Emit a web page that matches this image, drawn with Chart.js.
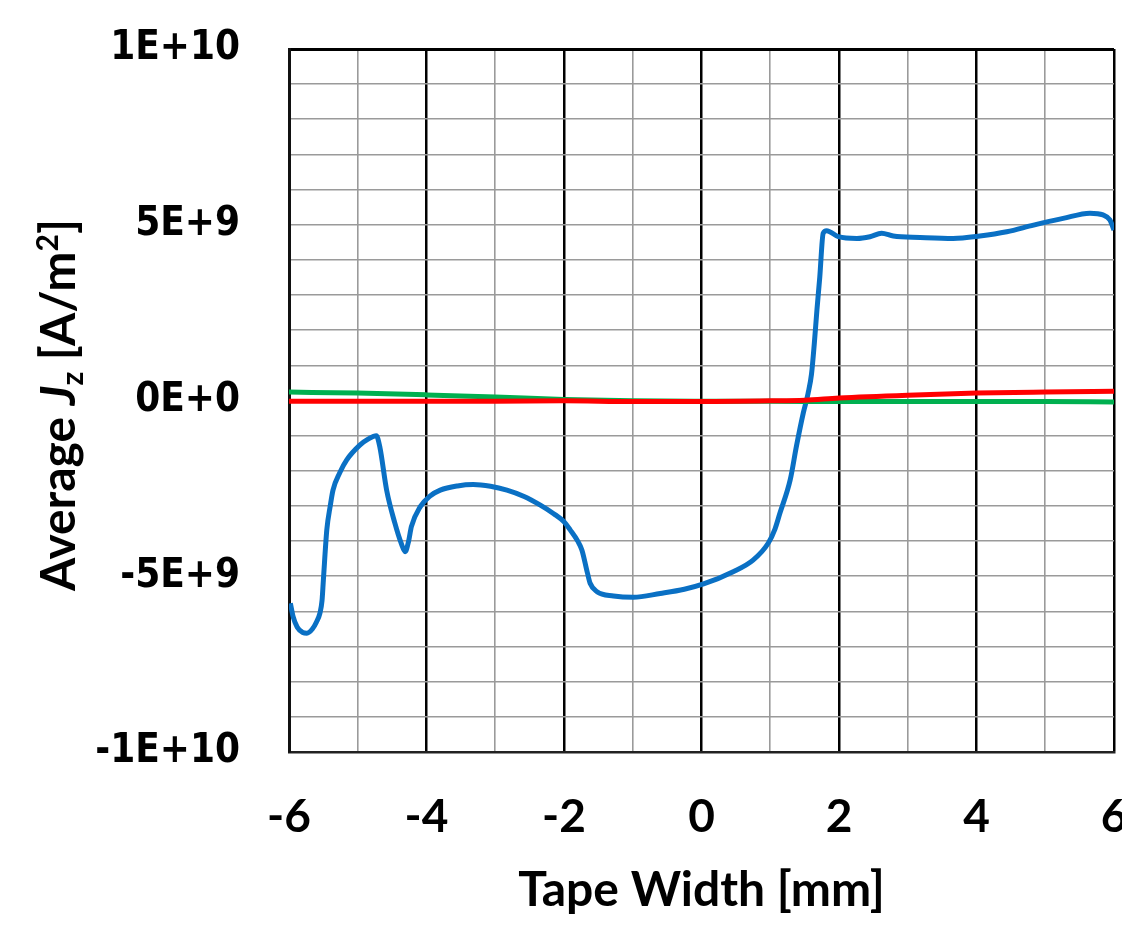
<!DOCTYPE html>
<html>
<head>
<meta charset="utf-8">
<script src="https://cdn.jsdelivr.net/npm/chart.js@4/dist/chart.umd.min.js"></script>
<style>
  html, body { margin: 0; padding: 0; background: #fff; overflow: hidden; }
  #wrap { width: 1150px; height: 925px; }
</style>
</head>
<body>
<div id="wrap"><canvas id="c" width="1150" height="925"></canvas></div>
<script>
// Average current density Jz across the tape width

// Blue trace: position [mm] and Jz [A/m^2]
const blueX = [-5.98, -5.94, -5.88, -5.80, -5.74, -5.66, -5.60, -5.55, -5.52, -5.50,
  -5.45, -5.40, -5.36, -5.26, -5.16, -4.97, -4.85, -4.73, -4.68, -4.58,
  -4.46, -4.37, -4.31, -4.26, -4.22, -4.09, -3.95, -3.80, -3.55, -3.32,
  -3.07, -2.83, -2.58, -2.35, -2.15, -2.00, -1.91, -1.80, -1.74, -1.66,
  -1.62, -1.52, -1.28, -0.99, -0.60, -0.25, 0.03, 0.46, 0.75, 0.97,
  1.07, 1.14, 1.29, 1.38, 1.48, 1.55, 1.60, 1.64, 1.68, 1.72, 1.77,
  1.82, 1.99, 2.26, 2.45, 2.62, 2.79, 3.18, 3.66, 4.05, 4.44,
  4.83, 5.26, 5.65, 5.84, 5.94, 6.00];
const blueJz = [-5.77e9, -6.15e9, -6.45e9, -6.60e9, -6.62e9, -6.50e9, -6.30e9, -6.05e9, -5.70e9, -5.11e9,
  -3.68e9, -3.00e9, -2.55e9, -2.05e9, -1.69e9, -1.27e9, -1.10e9, -1.00e9, -1.31e9, -2.55e9,
  -3.49e9, -4.05e9, -4.30e9, -4.00e9, -3.59e9, -3.02e9, -2.72e9, -2.55e9, -2.43e9, -2.39e9,
  -2.44e9, -2.55e9, -2.73e9, -2.97e9, -3.22e9, -3.45e9, -3.68e9, -4.00e9, -4.25e9, -4.90e9,
  -5.20e9, -5.44e9, -5.56e9, -5.60e9, -5.49e9, -5.37e9, -5.22e9, -4.87e9, -4.54e9, -4.06e9,
  -3.65e9, -3.21e9, -2.26e9, -1.31e9, -0.36e9, 0.20e9, 0.75e9, 1.60e9, 2.60e9, 3.50e9, 4.76e9,
  4.83e9, 4.66e9, 4.61e9, 4.66e9, 4.76e9, 4.68e9, 4.64e9, 4.61e9, 4.68e9, 4.80e9,
  4.99e9, 5.18e9, 5.33e9, 5.28e9, 5.14e9, 4.85e9];

// Green trace
const greenX = [-6, -5, -4, -3, -2, -1, 0, 1, 2, 3, 4, 5, 6];
const greenJz = [0.24e9, 0.21e9, 0.16e9, 0.10e9, 0.03e9, -0.01e9, -0.02e9, -0.02e9, -0.03e9, -0.03e9, -0.03e9, -0.03e9, -0.04e9];

// Red trace
const redX = [-6, -5, -4, -3, -2, -1, 0, 1, 1.5, 2, 3, 4, 5, 6];
const redJz = [-0.02e9, -0.02e9, -0.02e9, -0.02e9, -0.01e9, -0.03e9, -0.03e9, -0.01e9, 0.01e9, 0.07e9, 0.15e9, 0.21e9, 0.24e9, 0.26e9];

// Axis tick labels
const xTickValues = [-6, -4, -2, 0, 2, 4, 6];
const xTickLabels = ['-6', '-4', '-2', '0', '2', '4', '6'];
const yTickValues = [10, 5, 0, -5, -10];            // in units of 1E+9
const yTickLabels = ['1E+10', '5E+9', '0E+0', '-5E+9', '-1E+10'];

const xTitle = 'Tape Width [mm]';
// y title pieces: [text, style]
const yTitleParts = [['Average ', 'n'], ['J', 'i'], ['z', 'sub'], [' [A/m', 'n'], ['2', 'sup'], [']', 'n']];

const pts = (xs, ys) => xs.map((x, i) => ({ x, y: ys[i] }));

const TITLE_FONT = 'Lato, "Open Sans", sans-serif';

// draws the rotated y-axis title with italic J, subscript z and superscript 2
const yTitlePlugin = {
  id: 'yTitle',
  afterDraw(chart) {
    const ctx = chart.ctx;
    const size = 48;
    const small = Math.round(size * 0.62);
    const fontFor = s => {
      if (s === 'i') return `italic bold ${size}px ${TITLE_FONT}`;
      if (s === 'sub' || s === 'sup') return `bold ${small}px ${TITLE_FONT}`;
      return `bold ${size}px ${TITLE_FONT}`;
    };
    ctx.save();
    let total = 0;
    const widths = yTitleParts.map(([t, s]) => { ctx.font = fontFor(s); const w = ctx.measureText(t).width; total += w; return w; });
    const cx = 58, cy = 405;
    ctx.translate(cx, cy);
    ctx.rotate(-Math.PI / 2);
    ctx.fillStyle = '#000';
    ctx.textBaseline = 'alphabetic';
    ctx.textAlign = 'left';
    let x = -total / 2;
    const base = size * 0.36;
    yTitleParts.forEach(([t, s], i) => {
      ctx.font = fontFor(s);
      let dy = 0;
      if (s === 'sub') dy = size * 0.16;
      if (s === 'sup') dy = -size * 0.36;
      ctx.fillText(t, x, base + dy);
      x += widths[i];
    });
    ctx.restore();
  }
};

const CLEAR = 'rgba(0,0,0,0)';

new Chart(document.getElementById('c'), {
  type: 'line',
  data: {
    datasets: [
      { data: pts(redX, redJz), borderColor: '#ff0000', borderWidth: 5, pointRadius: 0, cubicInterpolationMode: 'monotone' },
      { data: pts(greenX, greenJz), borderColor: '#00b050', borderWidth: 5, pointRadius: 0, cubicInterpolationMode: 'monotone' },
      { data: pts(blueX, blueJz), borderColor: '#0a70c4', borderWidth: 5, pointRadius: 0, cubicInterpolationMode: 'monotone' }
    ]
  },
  options: {
    responsive: false,
    animation: false,
    events: [],
    layout: { padding: { left: 0, top: 49, right: 36, bottom: 0 } },
    plugins: { legend: { display: false }, tooltip: { enabled: false } },
    scales: {
      x: {
        type: 'linear',
        min: -6, max: 6,
        ticks: {
          stepSize: 1, autoSkip: false, maxRotation: 0,
          padding: 0,
          color: '#000',
          font: { family: TITLE_FONT, weight: 'bold', size: 46 },
          callback: v => { const i = xTickValues.indexOf(Math.round(v)); return (i >= 0 && Math.abs(v - Math.round(v)) < 1e-6) ? xTickLabels[i] : ''; }
        },
        grid: {
          drawTicks: true, tickLength: 38, tickColor: CLEAR,
          color: c => (Math.round(c.tick.value) % 2 === 0 ? '#000' : '#9a9a9a'),
          lineWidth: c => (Math.round(c.tick.value) % 2 === 0 ? 2.5 : 1.6)
        },
        border: { color: '#222', width: 2.5 },
        title: { display: true, text: xTitle, color: '#000', font: { family: TITLE_FONT, weight: 'bold', size: 48 }, padding: { top: 0, bottom: 6 } },
        afterFit: s => { s.height = 925 - 752; }
      },
      y: {
        type: 'linear',
        min: -1e10, max: 1e10,
        ticks: {
          stepSize: 1e9, autoSkip: false,
          padding: 0,
          color: '#000',
          font: { family: '"DejaVu Sans Condensed", "DejaVu Sans", sans-serif', weight: 'bold', size: 40 },
          callback: v => { const i = yTickValues.indexOf(Math.round(v / 1e9)); return i >= 0 ? yTickLabels[i] : ''; }
        },
        grid: {
          drawTicks: true, tickLength: 49, tickColor: CLEAR,
          color: c => (Math.round(c.tick.value / 1e9) === 10 ? '#000' : '#9a9a9a'),
          lineWidth: c => (Math.round(c.tick.value / 1e9) === 10 ? 3 : 1.6)
        },
        border: { color: '#111', width: 3 },
        afterFit: s => { s.width = 289; }
      }
    }
  },
  plugins: [yTitlePlugin]
});
</script>
</body>
</html>
